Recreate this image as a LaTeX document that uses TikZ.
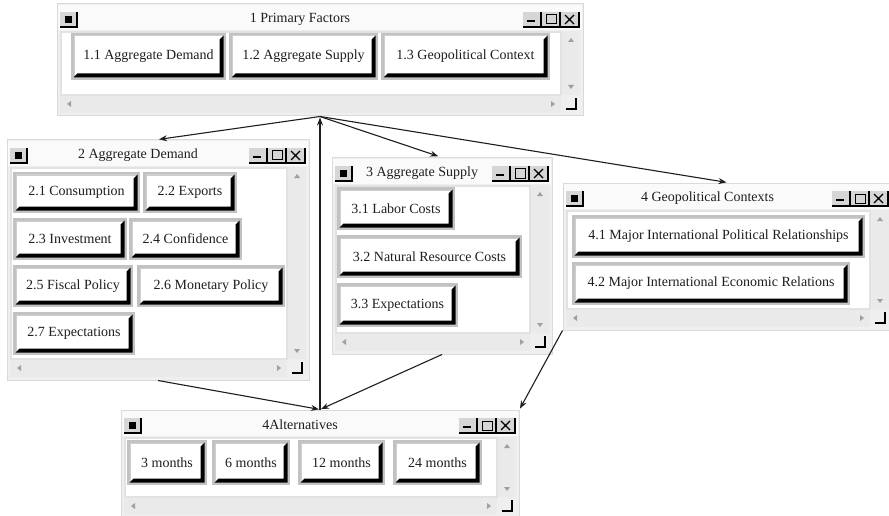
\documentclass[tikz,border=0pt]{standalone}
\usepackage{fontspec}
\setmainfont{Liberation Serif}
\usetikzlibrary{arrows.meta,calc}

\definecolor{winbg}{HTML}{EFEFEF}
\definecolor{winedge}{HTML}{DADADA}
\definecolor{titlebg}{HTML}{FAFAFA}
\definecolor{barbg}{HTML}{EAEAEA}
\definecolor{panelframe}{HTML}{E2E2E2}
\definecolor{btnframe}{HTML}{C2C2C2}
\definecolor{btnline}{HTML}{CFCFCF}
\definecolor{ctlbg}{HTML}{D6D6D6}
\definecolor{glyph}{HTML}{A0A0A0}
\definecolor{ink}{HTML}{1E1E1E}

\tikzset{
  winframe/.style={rectangle, draw=winedge, fill=winbg, line width=1pt, inner sep=0pt},
  wintitle/.style={inner sep=0pt, text=ink, font=\fontsize{14}{16}\selectfont},
  btnface/.style={rectangle, fill=white, draw=btnline, line width=1pt, inner sep=0pt,
    text=ink, font=\fontsize{14}{16}\selectfont},
  link/.style={draw=ink, line width=1.1pt, -{Stealth[length=8pt,width=6pt]}},
  ctlline/.style={draw=black, line width=1.6pt},
}

% #1 name, #2 left, #3 top, #4 right, #5 bottom, #6 title
\newcommand\appwindow[6]{%
  \node[winframe, minimum width={(#4-#2)*1pt}, minimum height={(#5-#3)*1pt}]
    (#1) at ({(#2+#4)/2},{(#3+#5)/2}) {};
  \fill[titlebg] (#2+1,#3+1) rectangle (#4-1,#3+26);
  % system menu icon
  \fill[ctlbg] (#2+3,#3+8) rectangle (#2+20,#3+23);
  \fill[black] (#2+8,#3+12) rectangle (#2+15,#3+19);
  \draw[ctlline] (#2+3,#3+23) -- (#2+20,#3+23) -- (#2+20,#3+8);
  % title
  \node[wintitle] (#1-title) at ({(#2+#4-40)/2},#3+15) {#6};
  % minimise / maximise / close
  \foreach \i in {0,1,2}{
    \fill[ctlbg] ({#4-60+19*\i},#3+8) rectangle ++(17,15);
    \draw[ctlline] ({#4-60+19*\i+18},#3+8) -- ++(0,15);
  }
  \draw[ctlline] (#4-60,#3+23) -- (#4-3,#3+23);
  \draw[black, line width=1.8pt] (#4-56,#3+17) -- ++(8,0);
  \draw[black, line width=1pt] (#4-37,#3+11) rectangle ++(10,9);
  \draw[black, line width=1.1pt] (#4-18,#3+11) -- ++(9,9) (#4-18,#3+20) -- ++(9,-9);
  % client area and scroll bars
  \draw[panelframe, line width=2pt, fill=white] (#2+4,#3+28) rectangle (#4-22,#5-21);
  \fill[barbg] (#4-21,#3+27) rectangle (#4-3,#5-21);
  \fill[barbg] (#2+3,#5-20) rectangle (#4-22,#5-3);
  \fill[glyph] (#4-12,#3+34) -- ++(-3,4) -- ++(6,0) -- cycle;
  \fill[glyph] (#4-12,#5-27) -- ++(-3,-4) -- ++(6,0) -- cycle;
  \fill[glyph] (#2+10,#5-12) -- ++(4,-3) -- ++(0,6) -- cycle;
  \fill[glyph] (#4-28,#5-12) -- ++(-4,-3) -- ++(0,6) -- cycle;
  \draw[ctlline] (#4-17,#5-7) -- (#4-7,#5-7) -- (#4-7,#5-18);
}

% #1 name, #2 left, #3 top, #4 right, #5 bottom, #6 label
\newcommand\appbutton[6]{%
  \fill[btnframe] (#2,#3) rectangle (#4,#5);
  \node[btnface, minimum width={(#4-#2-6)*1pt}, minimum height={(#5-#3-6)*1pt}]
    (#1) at ({(#2+#4)/2},{(#3+#5)/2}) {#6};
  \fill[black] (#1.south west) -- (#1.south east) -- (#1.north east)
    -- ([shift={(-4,4)}]#1.north east) -- ([shift={(-4,-4)}]#1.south east)
    -- ([shift={(4,-4)}]#1.south west) -- cycle;
}

\begin{document}
\begin{tikzpicture}[x=1pt, y=-1pt]
  \useasboundingbox (0,0) rectangle (889,516);
  \fill[white] (0,0) rectangle (889,516);

  % goal window
  \appwindow{w1}{57}{4}{583}{116}{1 Primary Factors}
  \appbutton{b11}{71}{33}{226}{80}{1.1 Aggregate Demand}
  \appbutton{b12}{229}{33}{378}{80}{1.2 Aggregate Supply}
  \appbutton{b13}{381}{33}{550}{80}{1.3 Geopolitical Context}

  % criteria windows
  \appwindow{w2}{7}{140}{309}{380}{2 Aggregate Demand}
  \appbutton{b21}{13}{172}{140}{213}{2.1 Consumption}
  \appbutton{b22}{143}{172}{237}{213}{2.2 Exports}
  \appbutton{b23}{13}{218}{127}{260}{2.3 Investment}
  \appbutton{b24}{129}{218}{242}{260}{2.4 Confidence}
  \appbutton{b25}{13}{265}{133}{307}{2.5 Fiscal Policy}
  \appbutton{b26}{137}{265}{285}{307}{2.6 Monetary Policy}
  \appbutton{b27}{13}{312}{135}{355}{2.7 Expectations}

  \appwindow{w3}{332}{158}{552}{354}{3 Aggregate Supply}
  \appbutton{b31}{337}{187}{455}{230}{3.1 Labor Costs}
  \appbutton{b32}{337}{235}{522}{278}{3.2 Natural Resource Costs}
  \appbutton{b33}{337}{283}{458}{327}{3.3 Expectations}

  \appwindow{w4}{563}{183}{892}{330}{4 Geopolitical Contexts}
  \appbutton{b41}{572}{215}{865}{258}{4.1 Major International Political Relationships}
  \appbutton{b42}{572}{262}{850}{305}{4.2 Major International Economic Relations}

  % alternatives window
  \appwindow{w5}{121}{410}{519}{518}{4Alternatives}
  \appbutton{b51}{127}{440}{207}{485}{3 months}
  \appbutton{b52}{212}{440}{290}{485}{6 months}
  \appbutton{b53}{298}{440}{385}{485}{12 months}
  \appbutton{b54}{393}{440}{482}{485}{24 months}

  % hierarchy links
  \draw[link, shorten >=1pt] (w1.south) -- (w2.north);
  \draw[link, shorten >=4pt] (w1.south) -- (w3.north);
  \draw[link, shorten >=1pt] (w1.south) -- (w4.north);
  \draw[link, shorten >=1pt] (w5.north) -- (w1.south);
  \draw[link, shorten >=1pt] (w2.south) -- (w5.north);
  \draw[link, shorten >=1pt] (w3.south) -- (w5.north);
  \draw[link, shorten >=1pt] (w4.south west) -- (w5.north east);
\end{tikzpicture}
\end{document}
